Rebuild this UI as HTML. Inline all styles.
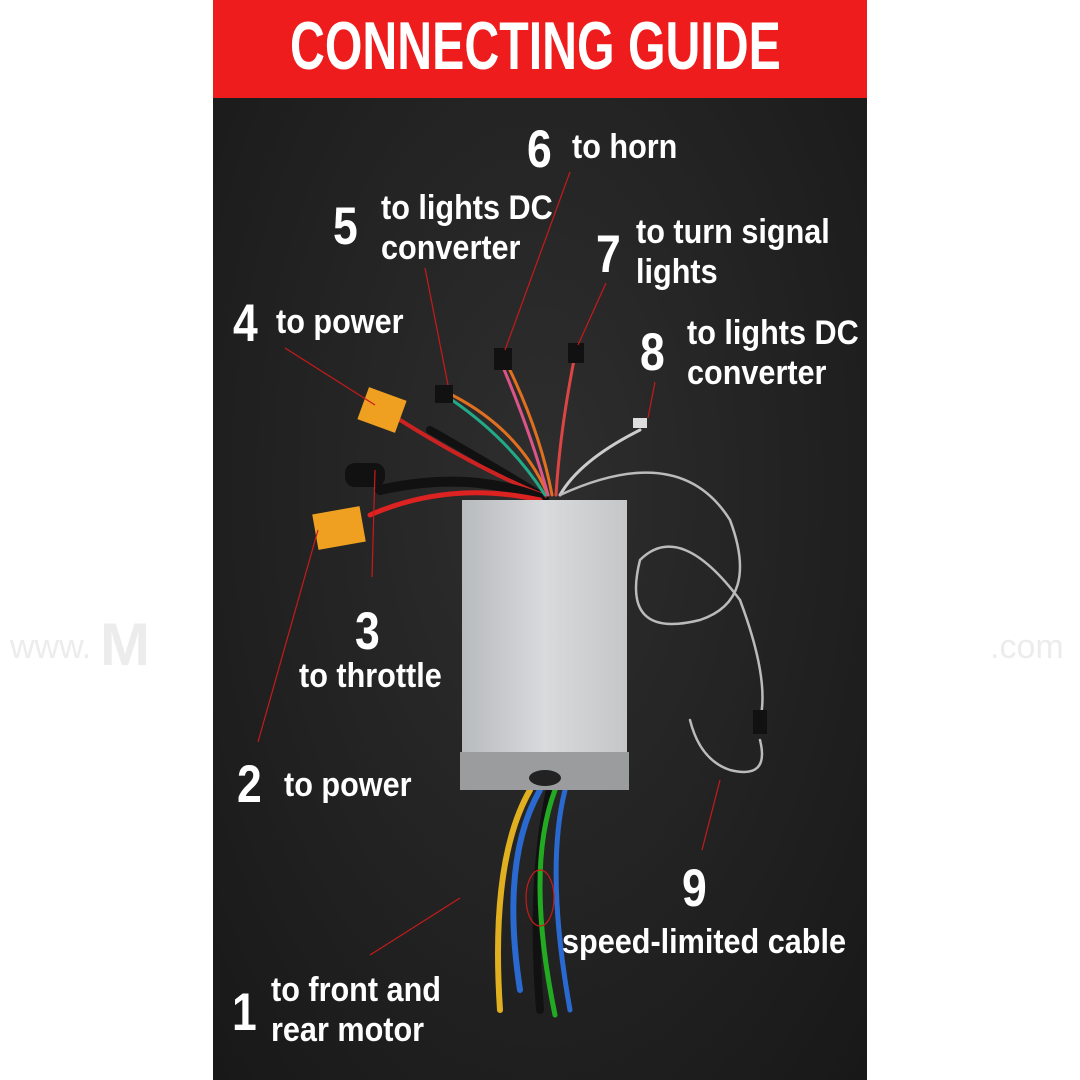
<!DOCTYPE html>
<html><head><meta charset="utf-8"><style>
html,body{margin:0;padding:0;width:1080px;height:1080px;background:#fff;overflow:hidden}
.wrap{position:absolute;left:213px;top:0;width:654px;height:1080px;background:radial-gradient(ellipse at 50% 45%,#2e2e2e 0%,#222 55%,#181818 100%)}
.hdr{position:absolute;left:213px;top:0;width:654px;height:98px;background:#ee1c1c}
.hdr div{position:absolute;left:77px;top:12px;color:#fff;font:bold 68px "Liberation Sans",sans-serif;line-height:1;white-space:nowrap;transform:scaleX(0.71);transform-origin:left top}
.t{position:absolute;color:#fff;font-family:"Liberation Sans",sans-serif;font-weight:bold;white-space:nowrap;line-height:1;transform:scaleX(0.9);transform-origin:left top}
.n{font-size:53px;transform:scaleX(0.84)}.s{font-size:34px;line-height:40px}
.wm{position:absolute;top:628px;color:#ececec;font:34px "Liberation Sans",sans-serif}
</style></head><body>
<div class="wrap"></div>
<div class="wm" style="left:10px">www.</div><div class="wm" style="left:100px;font-size:60px;top:610px;font-weight:bold">M</div>
<div class="wm" style="left:990px">.com</div>
<div class="hdr"><div>CONNECTING GUIDE</div></div>
<svg style="position:absolute;left:0;top:0" width="1080" height="1080">
<g fill="none" stroke-linecap="round">
<path d="M430 430 Q500 470 545 498" stroke="#111" stroke-width="8"/>
<path d="M400 420 Q480 470 545 496" stroke="#c22" stroke-width="4"/>
<path d="M380 490 Q470 470 540 498" stroke="#111" stroke-width="10"/>
<path d="M370 515 Q450 480 540 500" stroke="#d22" stroke-width="5"/>
<path d="M452 395 Q520 430 548 495" stroke="#e07020" stroke-width="3"/>
<path d="M452 400 Q510 440 545 495" stroke="#2a8" stroke-width="3"/>
<path d="M505 360 Q540 430 552 495" stroke="#e07020" stroke-width="3"/>
<path d="M500 360 Q530 430 548 495" stroke="#d58" stroke-width="3"/>
<path d="M575 355 Q560 430 556 495" stroke="#d44" stroke-width="3"/>
<path d="M640 430 Q580 460 560 495" stroke="#ccc" stroke-width="3"/>
<path d="M560 495 Q680 440 730 520 Q760 600 700 620 Q620 640 640 560 Q680 520 740 600 Q770 680 760 720" stroke="#bbb" stroke-width="2.5"/>
<path d="M760 740 Q770 780 730 770 Q700 760 690 720" stroke="#bbb" stroke-width="2.5"/>
<path d="M530 790 Q490 860 500 1010" stroke="#e0b020" stroke-width="6"/>
<path d="M540 790 Q500 860 520 990" stroke="#2a6ad0" stroke-width="6"/>
<path d="M550 790 Q530 880 540 1010" stroke="#111" stroke-width="8"/>
<path d="M555 790 Q525 870 555 1015" stroke="#2a2" stroke-width="5"/>
<path d="M565 790 Q545 870 570 1010" stroke="#2a6ad0" stroke-width="5"/>
</g>
<rect x="362" y="393" width="40" height="34" fill="#f0a020" transform="rotate(20 382 410)"/>
<rect x="315" y="510" width="48" height="36" fill="#f0a020" transform="rotate(-10 339 528)"/>
<rect x="345" y="463" width="40" height="24" rx="10" fill="#111"/>
<rect x="435" y="385" width="18" height="18" fill="#111"/>
<rect x="494" y="348" width="18" height="22" fill="#111"/>
<rect x="568" y="343" width="16" height="20" fill="#111"/>
<rect x="633" y="418" width="14" height="10" fill="#ddd"/>
<rect x="753" y="710" width="14" height="24" fill="#111"/>
<defs><linearGradient id="g" x1="0" x2="1"><stop offset="0" stop-color="#b8bbbe"/><stop offset="0.5" stop-color="#d8dadc"/><stop offset="1" stop-color="#c4c6c8"/></linearGradient></defs>
<rect x="462" y="500" width="165" height="256" fill="url(#g)"/>
<rect x="460" y="752" width="169" height="38" fill="#9a9c9e"/>
<ellipse cx="545" cy="778" rx="16" ry="8" fill="#222"/>
<g stroke="#c81a1a" stroke-width="1.2">
<line x1="570" y1="172" x2="505" y2="350"/>
<line x1="425" y1="268" x2="448" y2="385"/>
<line x1="606" y1="283" x2="578" y2="345"/>
<line x1="285" y1="348" x2="375" y2="405"/>
<line x1="655" y1="382" x2="648" y2="418"/>
<line x1="375" y1="470" x2="372" y2="577"/>
<line x1="318" y1="530" x2="258" y2="742"/>
<line x1="720" y1="780" x2="702" y2="850"/>
<line x1="460" y1="898" x2="370" y2="955"/>
</g>
<ellipse cx="540" cy="898" rx="14" ry="28" fill="none" stroke="#c81a1a" stroke-width="1.2"/>
</svg>
<div class="t n" style="left:527px;top:123px">6</div><div class="t s" style="left:572px;top:127px">to horn</div>
<div class="t n" style="left:333px;top:200px">5</div><div class="t s" style="left:381px;top:188px">to lights DC<br>converter</div>
<div class="t n" style="left:596px;top:228px">7</div><div class="t s" style="left:636px;top:212px">to turn signal<br>lights</div>
<div class="t n" style="left:233px;top:297px">4</div><div class="t s" style="left:276px;top:302px">to power</div>
<div class="t n" style="left:640px;top:326px">8</div><div class="t s" style="left:687px;top:313px">to lights DC<br>converter</div>
<div class="t n" style="left:355px;top:605px">3</div><div class="t s" style="left:299px;top:656px">to throttle</div>
<div class="t n" style="left:237px;top:758px">2</div><div class="t s" style="left:284px;top:765px">to power</div>
<div class="t n" style="left:682px;top:862px">9</div><div class="t s" style="left:562px;top:922px">speed-limited cable</div>
<div class="t n" style="left:232px;top:986px">1</div><div class="t s" style="left:271px;top:970px">to front and<br>rear motor</div>
</body></html>
